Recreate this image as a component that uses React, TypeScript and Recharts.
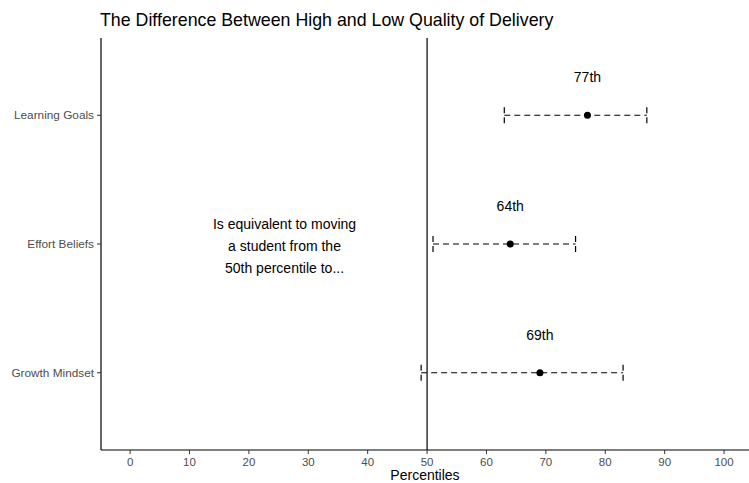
import {
  ErrorBar,
  ReferenceDot,
  ReferenceLine,
  Scatter,
  ScatterChart,
  XAxis,
  YAxis,
} from "recharts";

const categories = ["Growth Mindset", "Effort Beliefs", "Learning Goals"];
const estimates = [69, 64, 77];
const lower = [49, 51, 63];
const upper = [83, 75, 87];
const pointLabels = ["69th", "64th", "77th"];
const xTicks = [0, 10, 20, 30, 40, 50, 60, 70, 80, 90, 100];
const noteLines = ["Is equivalent to moving", "a student from the", "50th percentile to..."];

const rows = categories.map((name, i) => ({
  name,
  y: i + 1,
  x: estimates[i],
  err: [estimates[i] - lower[i], upper[i] - estimates[i]],
  label: pointLabels[i],
}));

const font = '"Liberation Sans", Arial, Helvetica, sans-serif';

function PointShape(props: any) {
  const { cx, cy, payload } = props;
  return (
    <g>
      <circle cx={cx} cy={cy} r={3.5} fill="#000" />
      <text
        x={cx}
        y={cy - 33}
        textAnchor="middle"
        fontSize={14}
        fontFamily={font}
        fill="#000"
      >
        {payload.label}
      </text>
    </g>
  );
}

function NoteShape(props: any) {
  const { cx, cy } = props;
  const offsets = [-15, 7, 29];
  return (
    <g>
      {noteLines.map((line, i) => (
        <text
          key={i}
          x={cx}
          y={cy + offsets[i]}
          textAnchor="middle"
          fontSize={14}
          fontFamily={font}
          fill="#000"
        >
          {line}
        </text>
      ))}
    </g>
  );
}

function XTick(props: any) {
  const { x, y, payload } = props;
  return (
    <text
      x={x}
      y={y + 10}
      textAnchor="middle"
      fontSize={11.5}
      fontFamily={font}
      fill="#4d4d4d"
    >
      {payload.value}
    </text>
  );
}

function YTick(props: any) {
  const { x, y, payload } = props;
  return (
    <text
      x={x - 1}
      y={y + 4}
      textAnchor="end"
      fontSize={11.8}
      fontFamily={font}
      fill="#4d4d4d"
    >
      {categories[payload.value - 1]}
    </text>
  );
}

export default function App() {
  return (
    <div
      style={{
        position: "absolute",
        left: 0,
        top: 0,
        width: 749,
        height: 483,
        background: "#fff",
        fontFamily: font,
      }}
    >
      <div
        style={{
          position: "absolute",
          left: 100,
          top: 10,
          fontSize: 17.8,
          color: "#000",
          whiteSpace: "nowrap",
        }}
      >
        The Difference Between High and Low Quality of Delivery
      </div>
      <ScatterChart
        width={749}
        height={483}
        margin={{ top: 38, right: 0, left: 0, bottom: 0 }}
      >
        <XAxis
          type="number"
          dataKey="x"
          domain={[-4.9, 104.2]}
          ticks={xTicks}
          allowDataOverflow
          height={33}
          axisLine={{ stroke: "#000", strokeWidth: 1.2 }}
          tickLine={{ stroke: "#333" }}
          tickSize={4}
          tick={XTick}
          label={{
            value: "Percentiles",
            position: "insideBottom",
            offset: 3,
            fill: "#000",
            fontSize: 14,
            fontFamily: font,
          }}
        />
        <YAxis
          type="number"
          dataKey="y"
          domain={[0.4, 3.6]}
          ticks={[1, 2, 3]}
          allowDataOverflow
          width={101}
          axisLine={{ stroke: "#000", strokeWidth: 1.2 }}
          tickLine={{ stroke: "#333" }}
          tickSize={4}
          tick={YTick}
        />
        <ReferenceLine x={50} stroke="#000" strokeWidth={1.2} />
        <ReferenceDot x={26} y={2} r={0} shape={NoteShape} />
        <Scatter data={rows} shape={PointShape} isAnimationActive={false}>
          <ErrorBar
            dataKey="err"
            direction="x"
            width={8}
            stroke="#000"
            strokeWidth={1.2}
            strokeDasharray="6 4"
            isAnimationActive={false}
          />
        </Scatter>
      </ScatterChart>
    </div>
  );
}
